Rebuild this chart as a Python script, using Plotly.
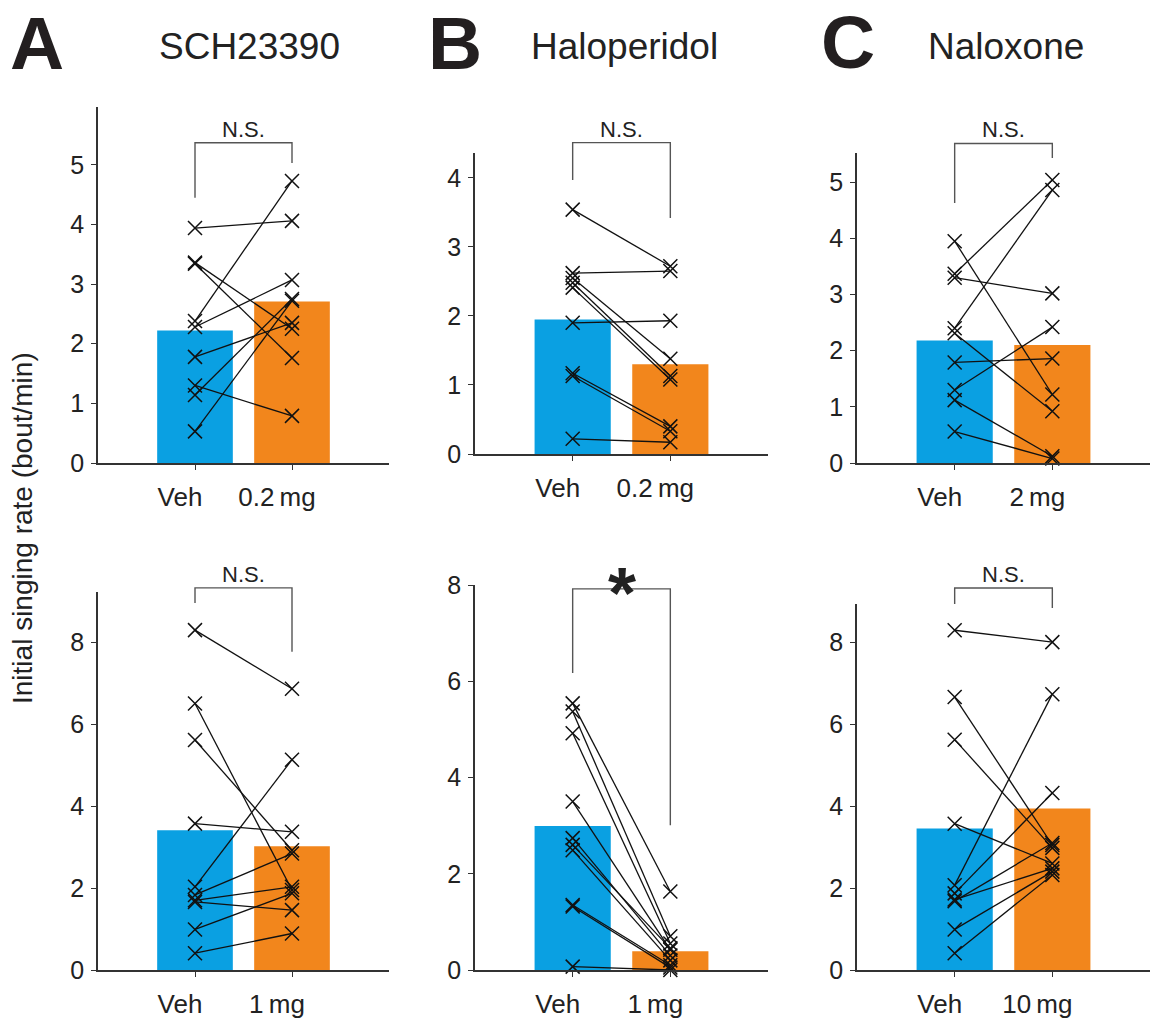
import plotly.graph_objects as go

W, H = 1153, 1019

# ---------------- data ----------------
categories = ["Veh", "drug"]
drug_labels = ["0.2\u2009mg", "0.2\u2009mg", "2\u2009mg", "1\u2009mg", "1\u2009mg", "10\u2009mg"]
drug_names = ["SCH23390", "Haloperidol", "Naloxone"]
panel_letters = ["A", "B", "C"]

# top row (low dose)
veh_A1 = [3.94, 3.36, 3.34, 2.38, 2.28, 1.78, 1.30, 1.14, 0.53]
drug_A1 = [4.06, 2.25, 1.76, 4.73, 3.07, 2.35, 0.79, 2.75, 2.72]
bars_A1 = [2.22, 2.71]

veh_B1 = [3.54, 2.62, 2.55, 2.48, 2.41, 1.90, 1.17, 1.13, 0.22]
drug_B1 = [2.72, 2.65, 1.38, 1.13, 1.08, 1.93, 0.40, 0.33, 0.17]
bars_B1 = [1.95, 1.30]

veh_C1 = [3.95, 3.37, 3.30, 2.40, 2.31, 1.79, 1.30, 1.12, 0.56]
drug_C1 = [1.22, 5.04, 3.02, 4.86, 0.92, 1.86, 2.42, 0.12, 0.08]
bars_C1 = [2.18, 2.10]

# bottom row (high dose)
veh_A2 = [8.29, 6.50, 5.61, 3.57, 2.03, 1.83, 1.70, 1.66, 0.99, 0.41]
drug_A2 = [6.86, 1.95, 2.92, 3.37, 5.13, 2.84, 2.03, 1.46, 1.87, 0.89]
bars_A2 = [3.41, 3.02]

veh_B2 = [5.54, 5.37, 4.92, 3.50, 2.74, 2.60, 2.49, 1.35, 1.32, 0.07]
drug_B2 = [1.63, 0.70, 0.55, 0.42, 0.30, 0.45, 0.20, 0.10, 0.05, 0.00]
bars_B2 = [2.99, 0.39]

veh_C2 = [8.29, 6.66, 5.62, 3.57, 2.07, 1.87, 1.72, 1.68, 0.99, 0.41]
drug_C2 = [8.00, 3.05, 2.98, 2.60, 6.73, 4.32, 2.48, 3.10, 2.40, 2.32]
bars_C2 = [3.45, 3.94]

# y-axis tops and ticks
y_tops = [5.97, 4.36, 5.52, 9.22, 8.0, 8.93]
y_ticks = [[0, 1, 2, 3, 4, 5], [0, 1, 2, 3, 4], [0, 1, 2, 3, 4, 5],
           [0, 2, 4, 6, 8], [0, 2, 4, 6, 8], [0, 2, 4, 6, 8]]

# significance brackets: [top, left leg end, right leg end] (data units)
brackets = [[5.37, 4.45, 5.03], [4.51, 3.97, 3.42], [5.69, 4.63, 5.43],
            [9.32, 8.95, 7.76], [7.92, 6.17, 3.01], [9.32, 8.93, 8.83]]
sig_labels = ["N.S.", "N.S.", "N.S.", "N.S.", "*", "N.S."]

panels = [
    (veh_A1, drug_A1, bars_A1), (veh_B1, drug_B1, bars_B1), (veh_C1, drug_C1, bars_C1),
    (veh_A2, drug_A2, bars_A2), (veh_B2, drug_B2, bars_B2), (veh_C2, drug_C2, bars_C2),
]

# ---------------- layout geometry (pixels) ----------------
x_dom_px = [(98, 389), (475, 768), (857, 1150)]
y_dom_px = [(107, 463), (153, 454), (153, 463), (592, 970), (585, 970), (604, 970)]

BLUE = "#0AA0E2"
ORANGE = "#F2861C"
AXC = "#333333"
FONT = "Liberation Sans, Arial, Helvetica, sans-serif"

fig = go.Figure()
layout = dict(width=W, height=H, margin=dict(l=0, r=0, t=0, b=0, autoexpand=False),
              paper_bgcolor="white", plot_bgcolor="white", showlegend=False,
              font=dict(family=FONT, color="#222"))
shapes = []
annotations = []

for k, (veh, drug, bars) in enumerate(panels):
    idx = "" if k == 0 else str(k + 1)
    xa, ya = "x" + idx, "y" + idx
    col = k % 3
    x0, x1 = x_dom_px[col]
    yt, yb = y_dom_px[k]
    layout["xaxis" + idx] = dict(
        domain=[x0 / W, x1 / W], anchor=ya, range=[0, 3], automargin=False,
        tickvals=[1, 2], ticktext=["Veh", drug_labels[k]],
        ticks="outside", ticklen=5, tickwidth=1.3, tickcolor=AXC,
        showline=True, linecolor=AXC, linewidth=1.6,
        showgrid=False, zeroline=False, fixedrange=True,
        tickfont=dict(size=26, color="#222"), ticklabelstandoff=5,
        ticklabelshift=-15,
    )
    layout["yaxis" + idx] = dict(
        domain=[1 - yb / H, 1 - yt / H], anchor=xa, range=[0, y_tops[k]], automargin=False,
        tickvals=y_ticks[k], ticks="outside", ticklen=5, tickwidth=1.3, tickcolor=AXC,
        showline=True, linecolor=AXC, linewidth=1.6,
        showgrid=False, zeroline=False, fixedrange=True,
        tickfont=dict(size=25, color="#222"), ticklabelstandoff=2,
    )
    fig.add_trace(go.Bar(x=[1, 2], y=bars, width=0.78,
                         marker=dict(color=[BLUE, ORANGE], line=dict(width=0)),
                         xaxis=xa, yaxis=ya))
    xs, ys = [], []
    for v, d in zip(veh, drug):
        xs += [1, 2, None]
        ys += [v, d, None]
    fig.add_trace(go.Scatter(x=xs, y=ys, mode="lines+markers",
                             line=dict(color="#111", width=1.3),
                             marker=dict(symbol="x-thin", size=14,
                                         line=dict(color="#111", width=1.5)),
                             xaxis=xa, yaxis=ya, cliponaxis=False))
    top, lleg, rleg = brackets[k]
    t = y_tops[k]
    shapes.append(dict(type="path", xref=xa, yref=ya + " domain",
                       path=f"M 1,{lleg / t} L 1,{top / t} L 2,{top / t} L 2,{rleg / t}",
                       line=dict(color="#555", width=1.4)))
    if sig_labels[k] == "*":
        annotations.append(dict(text="<b>*</b>", x=1.5, xref=xa, y=top / t, yref=ya + " domain",
                                yanchor="middle", showarrow=False, yshift=-4,
                                font=dict(size=72, color="#222")))
    else:
        annotations.append(dict(text=sig_labels[k], x=1.5, xref=xa, y=top / t, yref=ya + " domain",
                                yanchor="bottom", showarrow=False, yshift=-1,
                                font=dict(size=22, color="#222")))

# panel letters and titles
letter_pos = [(37, 43), (455, 43), (848, 42)]
title_pos = [(249, 47), (624, 47), (1006, 47)]
for (lx, ly), L in zip(letter_pos, panel_letters):
    annotations.append(dict(text=f"<b>{L}</b>", x=lx / W, y=1 - ly / H, xref="paper", yref="paper",
                            showarrow=False, xanchor="center", yanchor="middle",
                            font=dict(size=75, color="#231f20")))
for (tx, ty), T in zip(title_pos, drug_names):
    annotations.append(dict(text=T, x=tx / W, y=1 - ty / H, xref="paper", yref="paper",
                            showarrow=False, xanchor="center", yanchor="middle",
                            font=dict(size=37, color="#222")))

annotations.append(dict(text="Initial singing rate (bout/min)", x=22 / W, y=1 - 528 / H,
                        xref="paper", yref="paper", showarrow=False, textangle=-90,
                        xanchor="center", yanchor="middle",
                        font=dict(size=28, color="#222")))

layout["shapes"] = shapes
layout["annotations"] = annotations
fig.update_layout(**layout)
fig.write_html("out.html", config={"displayModeBar": False},
               post_script="document.body.style.margin='0px';")
